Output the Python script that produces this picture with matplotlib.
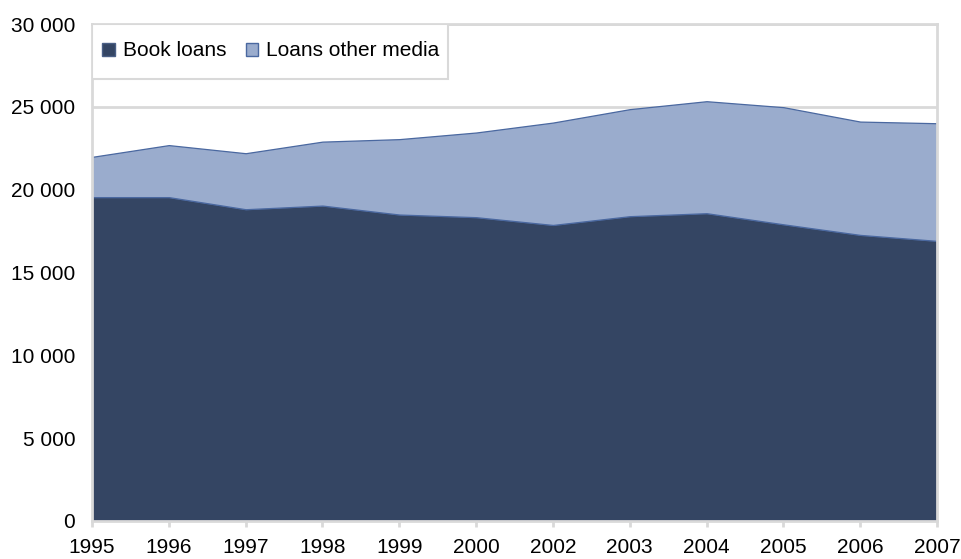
import matplotlib
matplotlib.use("Agg")
import matplotlib.pyplot as plt
from matplotlib.patches import Patch, Rectangle
from matplotlib.ticker import FuncFormatter

years = ["1995", "1996", "1997", "1998", "1999", "2000",
         "2002", "2003", "2004", "2005", "2006", "2007"]
book_loans = [19550, 19550, 18820, 19040, 18500, 18340,
              17870, 18400, 18580, 17910, 17270, 16910]
other_media = [2430, 3140, 3380, 3860, 4550, 5110,
               6180, 6460, 6760, 7070, 6840, 7100]

dark = "#344563"
light = "#9aaccd"
grey = "#d9d9d9"

plt.rcParams["font.family"] = ["Liberation Sans", "DejaVu Sans"]

fig = plt.figure(figsize=(9.61, 5.59), dpi=100)
ax = fig.add_axes([92 / 961, 1 - 521 / 559, 845 / 961, 497 / 559])

x = list(range(len(years)))
polys = ax.stackplot(x, book_loans, other_media, colors=[dark, light], zorder=2)
polys[0].set_edgecolor("#4a5f86")
polys[0].set_linewidth(0.8)
polys[1].set_edgecolor("#4a68a0")
polys[1].set_linewidth(0.9)

ax.set_xlim(0, len(years) - 1)
ax.set_ylim(0, 30000)
ax.set_xticks(x)
ax.set_xticklabels(years)
ax.set_yticks(range(0, 30001, 5000))
ax.yaxis.set_major_formatter(FuncFormatter(lambda v, p: f"{v:,.0f}".replace(",", " ")))

ax.grid(axis="y", color=grey, linewidth=2, zorder=0)
ax.set_axisbelow(True)
for side in ax.spines.values():
    side.set_color(grey)
    side.set_linewidth(2)

ax.tick_params(axis="y", length=0, pad=12, labelsize=15)
ax.tick_params(axis="x", length=4, width=2, color=grey, pad=8, labelsize=15)

# legend box (white, thin grey border) in the top-left corner
box = Rectangle((0, 1 - 55 / 497), 356 / 845, 55 / 497, transform=ax.transAxes,
                facecolor="white", edgecolor=grey, linewidth=1.5, zorder=4)
ax.add_patch(box)

handles = [Patch(facecolor=dark, edgecolor="#4a5f86", label="Book loans"),
           Patch(facecolor=light, edgecolor="#4a68a0", label="Loans other media")]
leg = ax.legend(handles=handles, loc="center left",
                bbox_to_anchor=(0, 1 - 27 / 497), ncol=2, fontsize=15,
                frameon=False, borderaxespad=0, borderpad=0.5,
                handlelength=0.6, handleheight=0.6,
                handletextpad=0.4, columnspacing=0.9)
leg.set_zorder(5)

fig.savefig("out.png", dpi=100)
